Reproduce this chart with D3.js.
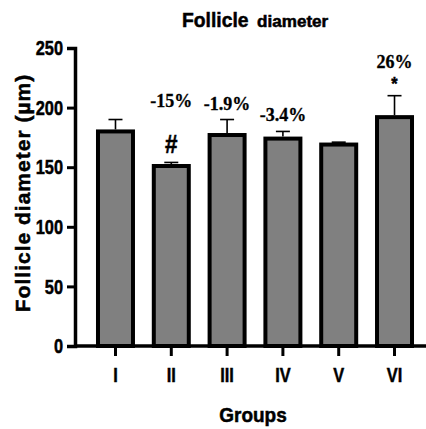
<!DOCTYPE html>
<html>
<head>
<meta charset="utf-8">
<script src="https://cdn.jsdelivr.net/npm/d3@7"></script>
<style>
  body { margin: 0; background: #fff; }
  svg text { font-family: "Liberation Sans", Arial, sans-serif; font-weight: bold; fill: #000; stroke: #000; stroke-width: 0.5px; }
  .note { font-family: "Liberation Serif", "Times New Roman", serif; stroke-width: 0.3px; }
</style>
</head>
<body>
<div id="chart"></div>
<script>
// data
let groups = ["I", "II", "III", "IV", "V", "VI"]
let means = [180, 151, 177, 174, 169, 192]
let errors = [10, 3, 13, 6, 2, 18]
let changes = ["", "-15%", "-1.9%", "-3.4%", "", "26%"]
let marks = ["", "#", "", "", "", "*"]
let yTicks = [0, 50, 100, 150, 200, 250]

let width = 426, height = 429
let margin = {top: 48, right: 0, bottom: 83, left: 75}
let narrow = 0.78   // squeeze for the condensed look of the axis text

let svg = d3.select("#chart")
    .append("svg")
        .attr("width", width)
        .attr("height", height)

let x = d3.scaleBand()
    .domain(groups)
    .range([76, 434])
    .paddingInner(0.373)
    .paddingOuter(0.394)

let y = d3.scaleLinear()
    .domain([0, 250])
    .range([height - margin.bottom, margin.top])

let cx = d => x(d) + x.bandwidth() / 2

//bars
svg.selectAll("rect.bar")
    .data(groups)
    .enter()
    .append("rect")
    .attr("class", "bar")
    .attr("x", d => x(d))
    .attr("y", (d, i) => y(means[i]))
    .attr("width", x.bandwidth())
    .attr("height", (d, i) => y(0) - y(means[i]))
    .attr("fill", "#808080")
    .attr("stroke", "#000")
    .attr("stroke-width", 4)

//error bars (upper only)
let err = svg.selectAll("g.err")
    .data(groups)
    .enter()
    .append("g")
    .attr("class", "err")
    .attr("stroke", "#000")
    .attr("stroke-width", 1.6)

err.append("line")
    .attr("x1", cx)
    .attr("x2", cx)
    .attr("y1", (d, i) => y(means[i]) - 2)
    .attr("y2", (d, i) => y(means[i] + errors[i]))

err.append("line")
    .attr("x1", d => cx(d) - 7)
    .attr("x2", d => cx(d) + 7)
    .attr("y1", (d, i) => y(means[i] + errors[i]))
    .attr("y2", (d, i) => y(means[i] + errors[i]))

//axes
let yAxis = svg.append("g")
    .attr("transform", `translate(${margin.left}, 0)`)
    .call(d3.axisLeft(y).tickValues(yTicks).tickSize(8).tickPadding(4))

let xAxis = svg.append("g")
    .attr("transform", `translate(0, ${y(0)})`)
    .call(d3.axisBottom(x).tickSize(10).tickPadding(11))

xAxis.select(".domain").attr("d", `M${margin.left},0H${width}`)

for (let ax of [xAxis, yAxis]) {
    ax.select(".domain").attr("stroke-width", 3.5)
    ax.selectAll(".tick line").attr("stroke-width", 3)
    ax.selectAll("text")
        .style("font-size", "21px")
        .style("font-weight", "bold")
        .attr("fill", "#000")
        .attr("transform", `scale(${narrow},1)`)
}
yAxis.selectAll("text").attr("x", -12 / narrow)

//percent change labels
let pctY = [0, 107, y(means[2] + errors[2]) - 10, y(means[3] + errors[3]) - 10, 0, 68]
svg.selectAll("text.pct")
    .data(groups)
    .enter()
    .append("text")
    .attr("class", "pct note")
    .attr("x", cx)
    .attr("y", (d, i) => pctY[i])
    .attr("text-anchor", "middle")
    .style("font-size", "18px")
    .text((d, i) => changes[i])

svg.selectAll("text.mark")
    .data(groups)
    .enter()
    .append("text")
    .attr("class", "mark")
    .attr("text-anchor", "middle")
    .attr("transform", (d, i) => `translate(${cx(d)}, ${i == 5 ? 90 : 153}) scale(0.9,1)`)
    .style("font-size", (d, i) => i == 5 ? "18px" : "25px")
    .text((d, i) => marks[i])

//titles
svg.append("text")
    .attr("transform", "translate(182, 27) scale(0.92,1)")
    .style("font-size", "21px")
    .text("Follicle")

svg.append("text")
    .attr("transform", "translate(257, 27) scale(1.07,1)")
    .style("font-size", "16px")
    .text("diameter")

svg.append("text")
    .attr("transform", `translate(253, 422) scale(0.95,1)`)
    .attr("text-anchor", "middle")
    .style("font-size", "20px")
    .text("Groups")

svg.append("text")
    .attr("transform", `translate(30, 193) rotate(-90)`)
    .attr("text-anchor", "middle")
    .style("font-size", "21px")
    .style("letter-spacing", "1px")
    .text("Follicle diameter (\u00b5m)")
</script>
</body>
</html>
